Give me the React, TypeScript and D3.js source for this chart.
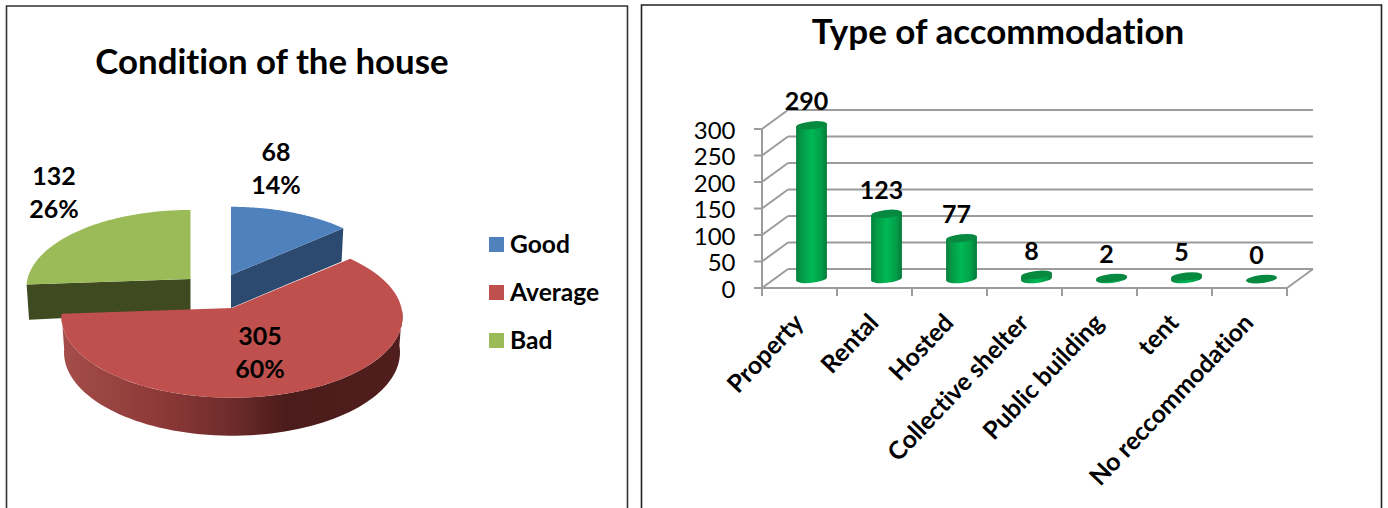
import * as d3 from "d3";

// Pie: condition of the house
const conditionNames = ["Good", "Average", "Bad"];
const conditionCounts = [68, 305, 132];
const conditionPercents = [14, 60, 26];
const conditionTop = ["#4f81bd", "#bf504d", "#9bbb59"];
const conditionWall = ["#2c4a70", "#6e2b2b", "#3f4a20"];
const conditionOrigin: [number, number][] = [[231, 275], [232, 308], [190.5, 279]];
const conditionRadius = [161, 169.5, 163];

// Cylinders: type of accommodation
const accommodationNames = ["Property", "Rental", "Hosted", "Collective shelter", "Public building", "tent", "No reccommodation"];
const accommodationCounts = [290, 123, 77, 8, 2, 5, 0];
const axisTicks = [0, 50, 100, 150, 200, 250, 300];

const FONT = "Lato, sans-serif";
const NO_LIGATURES = { fontVariantLigatures: "none" } as const;
const TILT = 80 / 170;
const PERSPECTIVE = 0.111;
const DEPTH = 35;

// Projects a point of the disc rim to the screen, h = 0 top face, h = 1 bottom face.
function rim(origin: [number, number], r: number, a: number, h: number): [number, number] {
  const s = (1 / (1 + PERSPECTIVE * Math.cos(a))) * (h ? 0.985 : 1);
  return [origin[0] + r * Math.sin(a) * s, origin[1] - r * TILT * Math.cos(a) * s + h * DEPTH * (1 / (1 + PERSPECTIVE * Math.cos(a)))];
}

const poly = d3.line();

function PieChart() {
  const arcs = d3.pie<number>().sort(null).startAngle(0).endAngle(2 * Math.PI)(conditionCounts);
  const labelAt: [number, number][] = [[276, 161], [260, 345], [54, 185]];
  const sweep = (o: [number, number], r: number, a0: number, a1: number, h: number) =>
    d3.range(0, 81).map((i) => rim(o, r, a0 + ((a1 - a0) * i) / 80, h));
  return (
    <g>
      <defs>
        <linearGradient id="redWall" gradientUnits="userSpaceOnUse" x1={62} x2={402} y1={0} y2={0}>
          <stop offset="0" stopColor="#a44d4a" />
          <stop offset="0.31" stopColor="#8a3836" />
          <stop offset="0.5" stopColor="#6e2b2b" />
          <stop offset="0.66" stopColor="#4b1c1b" />
          <stop offset="1" stopColor="#501e1c" />
        </linearGradient>
      </defs>
      {/* cut faces of the pulled-out slices sit behind the large slice */}
      {[0, 2].map((i) => {
        const o = conditionOrigin[i];
        const r = conditionRadius[i];
        const a = i === 0 ? arcs[i].endAngle : arcs[i].startAngle;
        const top = rim(o, r, a, 0);
        const bottom = rim(o, r, a, 1);
        const face = [o, top, bottom, [o[0], o[1] + DEPTH - 2] as [number, number]];
        return (
          <g key={i}>
            <path d={poly(face) + "Z"} fill={conditionWall[i]} />
            <path d={poly([o, ...sweep(o, r, arcs[i].startAngle, arcs[i].endAngle, 0)]) + "Z"} fill={conditionTop[i]} />
          </g>
        );
      })}
      {(() => {
        const o = conditionOrigin[1];
        const r = conditionRadius[1];
        const a0 = Math.PI * 0.51;
        const a1 = arcs[1].endAngle;
        return (
          <g>
            <path d={poly([...sweep(o, r, a0, a1, 0), ...sweep(o, r, a0, a1, 1).reverse()]) + "Z"} fill="url(#redWall)" />
            <path d={poly([o, ...sweep(o, r, arcs[1].startAngle, a1, 0)]) + "Z"} fill={conditionTop[1]} />
          </g>
        );
      })()}
      {arcs.map((_, i) => (
        <text key={i} fontFamily={FONT} fontWeight={700} fontSize={25} textAnchor="middle" fill="#000">
          <tspan x={labelAt[i][0]} y={labelAt[i][1]}>{conditionCounts[i]}</tspan>
          <tspan x={labelAt[i][0]} y={labelAt[i][1] + 33}>{conditionPercents[i]}%</tspan>
        </text>
      ))}
      {conditionNames.map((n, i) => (
        <g key={n}>
          <rect x={489} y={237 + i * 48} width={15} height={15} fill={conditionTop[i]} />
          <text x={510} y={252.5 + i * 48} fontFamily={FONT} fontWeight={700} fontSize={24.6} fill="#000">{n}</text>
        </g>
      ))}
      <text x={272} y={74} textAnchor="middle" fontFamily={FONT} fontWeight={700} fontSize={34.8} fill="#000" style={NO_LIGATURES}>Condition of the house</text>
    </g>
  );
}

function BarChart() {
  const y = d3.scaleLinear().domain([0, 300]).range([288, 129]);
  const x = d3.scaleBand<string>().domain(accommodationNames).range([762, 1287]);
  const gridColor = "#9c9c9c";
  const dx = 26;
  const dy = -19;
  const left = x.range()[0];
  const right = x.range()[1];
  const rx = 15.5;
  const ry = 3.9;
  const tilt = (6 * Math.PI) / 180;
  const ex = rx * Math.cos(tilt);
  const ey = rx * Math.sin(tilt);
  return (
    <g>
      <defs>
        <linearGradient id="cyl" x1="0" x2="1" y1="0" y2="0">
          <stop offset="0" stopColor="#07803c" />
          <stop offset="0.18" stopColor="#049a47" />
          <stop offset="0.5" stopColor="#00b854" />
          <stop offset="0.8" stopColor="#02a04a" />
          <stop offset="1" stopColor="#067a39" />
        </linearGradient>
      </defs>
      <g stroke={gridColor} strokeWidth={2} fill="none">
        {axisTicks.map((t) => (
          <g key={t}>
            <line x1={left - 8} x2={left} y1={y(t)} y2={y(t)} />
            <line x1={left} x2={left + dx} y1={y(t)} y2={y(t) + dy} />
            <line x1={left + dx} x2={right + dx} y1={y(t) + dy} y2={y(t) + dy} />
          </g>
        ))}
        <line x1={left} x2={left} y1={y(300)} y2={296} />
        <line x1={left} x2={right} y1={288} y2={288} />
        <line x1={right} x2={right + dx} y1={288} y2={288 + dy} />
        {accommodationNames.map((n) => (
          <line key={n} x1={(x(n) as number) + x.bandwidth()} x2={(x(n) as number) + x.bandwidth()} y1={288} y2={296} />
        ))}
      </g>
      {axisTicks.map((t) => (
        <text key={t} x={735.5} y={y(t) + 1.5} dy="0.35em" textAnchor="end" fontFamily={FONT} fontSize={24} fill="#000">{t}</text>
      ))}
      {accommodationCounts.map((v, i) => {
        const name = accommodationNames[i];
        const cx = (x(name) as number) + x.bandwidth() / 2 + 12;
        const base = y(0) - 9;
        const top = base - (y(0) - y(v));
        return (
          <g key={name}>
            <path
              d={`M${cx - ex},${top + ey}L${cx - ex},${base + ey}A${rx},${ry} -6 0 0 ${cx + ex},${base - ey}L${cx + ex},${top - ey}Z`}
              fill="url(#cyl)"
            />
            <ellipse cx={cx} cy={top} rx={rx} ry={ry} transform={`rotate(-6 ${cx} ${top})`} fill="#07893f" />
            <text x={cx - 5} y={y(v) - 24} textAnchor="middle" fontFamily={FONT} fontWeight={700} fontSize={25} fill="#000">{v}</text>
          </g>
        );
      })}
      {accommodationNames.map((n) => {
        const tx = (x(n) as number) + x.bandwidth() / 2 + 5.5;
        return (
          <text key={n} x={tx} y={324} textAnchor="end" transform={`rotate(-46.5 ${tx} 324)`} fontFamily={FONT} fontWeight={700} fontSize={24.8} fill="#000" style={NO_LIGATURES}>{n}</text>
        );
      })}
      <text x={998} y={44} textAnchor="middle" fontFamily={FONT} fontWeight={700} fontSize={35} fill="#000" style={NO_LIGATURES}>Type of accommodation</text>
    </g>
  );
}

export default function App() {
  return (
    <svg width={1388} height={508} style={{ position: "absolute", left: 0, top: 0, background: "#fff" }}>
      <path d="M6.5,508V6H627.5V508" fill="none" stroke="#333" strokeWidth={1.6} />
      <path d="M641.5,508V5H1381.5V508" fill="none" stroke="#222" strokeWidth={1.6} />
      <PieChart />
      <BarChart />
    </svg>
  );
}
